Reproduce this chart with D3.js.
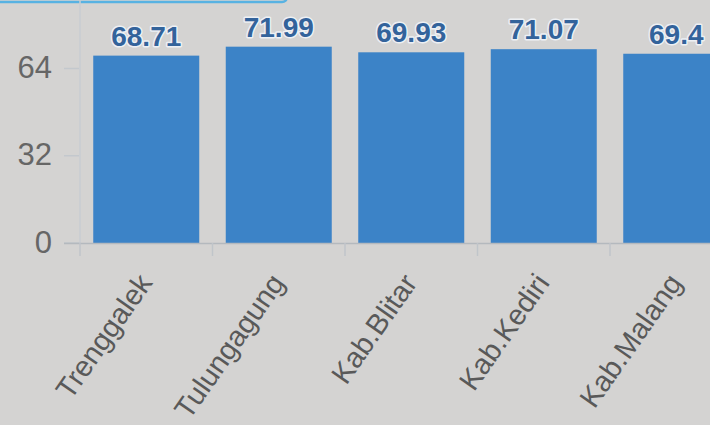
<!DOCTYPE html>
<html>
<head>
<meta charset="utf-8">
<script src="https://cdn.jsdelivr.net/npm/d3@7"></script>
<style>
  html, body { margin: 0; padding: 0; background: #d4d3d2; }
  svg { display: block; }
</style>
</head>
<body>
<svg id="chart" width="710" height="425"></svg>
<script>
const categories = ["Trenggalek", "Tulungagung", "Kab.Blitar", "Kab.Kediri", "Kab.Malang"];
const values = [68.71, 71.99, 69.93, 71.07, 69.4];
const valueLabels = ["68.71", "71.99", "69.93", "71.07", "69.4"];
const yTicks = [0, 32, 64];

const svg = d3.select("#chart");
const W = 710, H = 425;

svg.append("rect").attr("width", W).attr("height", H).attr("fill", "#d4d3d2");

// top tab border (cropped)
svg.append("rect")
  .attr("x", -10).attr("y", -30).attr("width", 297).attr("height", 32)
  .attr("rx", 5).attr("fill", "#d4d3d2")
  .attr("stroke", "#58b2e2").attr("stroke-width", 2.5);

const x = d3.scaleBand()
  .domain(categories)
  .range([80, 742.5])
  .paddingInner(0.2)
  .paddingOuter(0.1);

const y = d3.scaleLinear().domain([0, 96]).range([243, 243 - 96 * 2.727]);

// y axis ticks & labels
const yAxis = svg.append("g");
yAxis.selectAll("line.tick").data(yTicks).join("line")
  .attr("x1", 64).attr("x2", 79)
  .attr("y1", d => y(d)).attr("y2", d => y(d))
  .attr("stroke", "#c3c8cd").attr("stroke-width", 1.5);
yAxis.selectAll("text").data(yTicks).join("text")
  .attr("x", 52).attr("y", d => y(d) + 9.5)
  .attr("text-anchor", "end")
  .attr("font-family", "Liberation Sans, Arial, sans-serif")
  .attr("font-size", 31)
  .attr("fill", "#666")
  .text(d => d);

// faint y axis line
svg.append("line")
  .attr("x1", 80).attr("x2", 80).attr("y1", 0).attr("y2", 243)
  .attr("stroke", "#c8cdd2").attr("stroke-width", 1.5);

// bars
svg.selectAll("rect.bar").data(values).join("rect")
  .attr("class", "bar")
  .attr("x", (d, i) => x(categories[i]))
  .attr("y", d => y(d))
  .attr("width", x.bandwidth())
  .attr("height", d => y(0) - y(d))
  .attr("fill", "#3c83c7");

// x axis line and ticks
svg.append("line")
  .attr("x1", 64).attr("x2", W).attr("y1", 243.5).attr("y2", 243.5)
  .attr("stroke", "#b4b9be").attr("stroke-width", 1.5);
const bounds = categories.map(c => x(c) - x.step() * x.paddingInner() / 2);
bounds[0] = 80;
svg.selectAll("line.xt").data(bounds).join("line")
  .attr("class", "xt")
  .attr("x1", d => d).attr("x2", d => d)
  .attr("y1", 243).attr("y2", 256)
  .attr("stroke", "#c0c5ca").attr("stroke-width", 1.5);

// x labels
svg.selectAll("text.xl").data(categories).join("text")
  .attr("class", "xl")
  .attr("transform", d => `translate(${x(d) + x.bandwidth() / 2 + 7},${283}) rotate(-55)`)
  .attr("text-anchor", "end")
  .attr("font-family", "Liberation Sans, Arial, sans-serif")
  .attr("font-size", 29)
  .attr("fill", "#595959")
  .text(d => d);

// value labels
svg.selectAll("text.vl").data(values).join("text")
  .attr("class", "vl")
  .attr("x", (d, i) => x(categories[i]) + x.bandwidth() / 2)
  .attr("y", d => y(d) - 10)
  .attr("text-anchor", "middle")
  .attr("font-family", "Liberation Sans, Arial, sans-serif")
  .attr("font-weight", "bold")
  .attr("font-size", 28)
  .attr("fill", "#33639b")
  .attr("stroke", "#f2f6fb")
  .attr("stroke-width", 3)
  .attr("stroke-opacity", 0.85)
  .attr("stroke-linejoin", "round")
  .attr("paint-order", "stroke")
  .text((d, i) => valueLabels[i]);
</script>
</body>
</html>
